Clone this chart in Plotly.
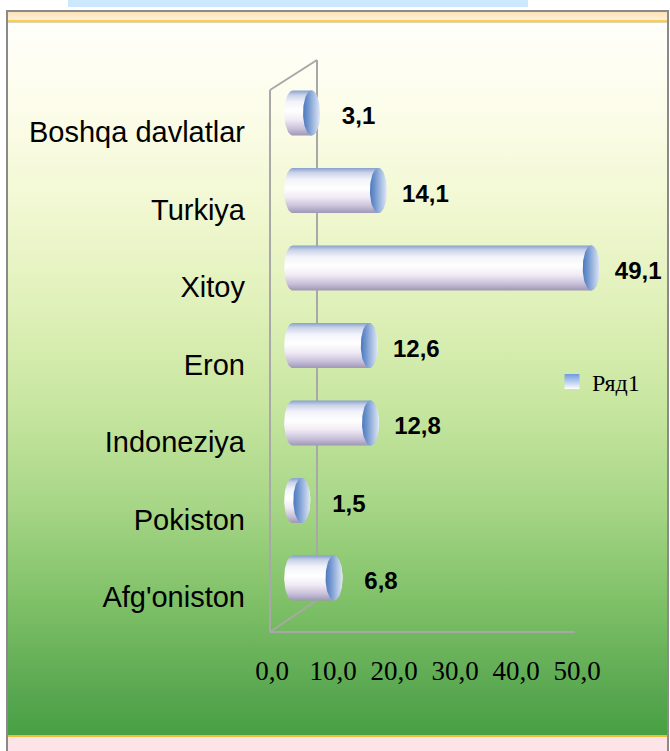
import numpy as np
import plotly.graph_objects as go

# ---------------- data ----------------
categories = ["Afg'oniston", "Pokiston", "Indoneziya", "Eron", "Xitoy", "Turkiya", "Boshqa davlatlar"]
values = [6.8, 1.5, 12.8, 12.6, 49.1, 14.1, 3.1]
x_ticks = [0, 10, 20, 30, 40, 50]
series_name = "Ряд1"

# ---------------- geometry (pixels) ----------------
W, H = 670, 751
X0_PX, PX_PER_X = 292.7, 6.08      # bar plane: value 0 position and scale
Y0_PX, PX_PER_Y = 578.0, 77.5      # first category centre and spacing
X2_DOM = (250, 660)
Y2_DOM = (640, 40)
RX_PX, RY_PX = 8.5, 22.5           # cylinder end ellipse radii

def px_to_x(px):
    return (px - X0_PX) / PX_PER_X

def px_to_y(py):
    return (Y0_PX - py) / PX_PER_Y

rx = RX_PX / PX_PER_X
ry = RY_PX / PX_PER_Y

fig = go.Figure()

# ---------------- background (subplot xy, pixel coordinates) ----------------
def rect(x0, y0, x1, y1):
    return [x0, x1, x1, x0, x0], [y0, y0, y1, y1, y0]

def bg_rect(x0, y0, x1, y1, color=None, grad=None):
    xs, ys = rect(x0, y0, x1, y1)
    kw = dict(x=xs, y=ys, mode="lines", line=dict(width=0), fill="toself",
              hoverinfo="skip", showlegend=False, xaxis="x", yaxis="y")
    if grad is not None:
        kw["fillgradient"] = grad
    else:
        kw["fillcolor"] = color
    fig.add_trace(go.Scatter(**kw))

bg_rect(68, 0, 528, 7, "#cbe8fc")                 # light blue strip at top
bg_rect(6, 10, 669, 751, "#8a8a8a")               # grey frame
bg_rect(8, 12, 667, 20, grad=dict(type="vertical", start=12, stop=20,
        colorscale=[[0, "#fde2b6"], [1, "#fdf1dc"]]))
bg_rect(8, 20, 667, 22.5, "#f7cf55")              # yellow line
bg_rect(8, 22.5, 667, 735, grad=dict(type="vertical", start=22.5, stop=735,
        colorscale=[[0.00, "#fffffb"],
                     [0.11, "#fdfdec"],
                     [0.25, "#f2f8d3"],
                     [0.39, "#e1f1bb"],
                     [0.53, "#c9e7a1"],
                     [0.67, "#a9d788"],
                     [0.81, "#80c168"],
                     [0.95, "#56a64f"],
                     [1.00, "#48a042"]]))
bg_rect(8, 735, 667, 737, "#eebe3a")              # bottom yellow line
bg_rect(8, 737, 667, 751, "#fde4e8")              # pink strip

# ---------------- 3D frame lines (subplot x2y2) ----------------
frame_px = [((270, 90), (270, 632)),
            ((317, 60), (317, 600)),
            ((270, 90), (317, 60)),
            ((270, 632), (317, 600)),
            ((270, 632), (575, 632))]
fx, fy = [], []
for (a, b) in frame_px:
    fx += [px_to_x(a[0]), px_to_x(b[0]), None]
    fy += [px_to_y(a[1]), px_to_y(b[1]), None]
fig.add_trace(go.Scatter(x=fx, y=fy, mode="lines", line=dict(color="#a8a8a8", width=2),
                         hoverinfo="skip", showlegend=False, xaxis="x2", yaxis="y2"))

# ---------------- cylinders ----------------
t_left = np.linspace(np.pi / 2, 3 * np.pi / 2, 40)
t_right = np.linspace(-np.pi / 2, np.pi / 2, 40)
t_full = np.linspace(0, 2 * np.pi, 80)

body_scale = [[0.00, "#9e97b6"], [0.15, "#c9c1da"], [0.35, "#f1ebf5"],
              [0.55, "#ffffff"], [0.75, "#f2f3fa"], [0.90, "#c9d2e8"], [1.00, "#86a0cb"]]
cap_scale = [[0.00, "#4c79bd"], [0.30, "#7196cf"], [0.65, "#a9bfe2"], [1.00, "#dfe7f4"]]

for i, v in enumerate(values):
    bx = np.concatenate([rx * np.cos(t_left), v + rx * np.cos(t_right)])
    by = np.concatenate([i + ry * np.sin(t_left), i + ry * np.sin(t_right)])
    fig.add_trace(go.Scatter(
        x=np.append(bx, bx[0]), y=np.append(by, by[0]), mode="lines", line=dict(width=0),
        fill="toself", fillgradient=dict(type="vertical", start=i - ry, stop=i + ry,
                                          colorscale=body_scale),
        hoverinfo="skip", showlegend=False, xaxis="x2", yaxis="y2"))
    cx = v + rx * np.cos(t_full)
    cy = i + ry * np.sin(t_full)
    fig.add_trace(go.Scatter(
        x=cx, y=cy, mode="lines", line=dict(width=0),
        fill="toself", fillgradient=dict(type="horizontal", start=v - rx, stop=v + rx,
                                          colorscale=cap_scale),
        hoverinfo="skip", showlegend=False, xaxis="x2", yaxis="y2"))

# ---------------- value labels ----------------
LABEL_DX_PX, LABEL_DY_PX = 47, 5
fig.add_trace(go.Scatter(
    x=[v + LABEL_DX_PX / PX_PER_X for v in values],
    y=[i - LABEL_DY_PX / PX_PER_Y for i in range(len(values))],
    text=[f"{v:.1f}".replace(".", ",") for v in values],
    mode="text", textposition="middle center",
    textfont=dict(family="Liberation Sans, Arial", size=24, color="#000000", weight="bold"),
    cliponaxis=False, hoverinfo="skip", showlegend=False, xaxis="x2", yaxis="y2"))

# ---------------- legend entry ----------------
fig.add_trace(go.Scatter(
    x=[None], y=[None], mode="markers", name=series_name,
    marker=dict(symbol="square", size=15, color="#6f9be0",
                gradient=dict(type="vertical", color="#ffffff")),
    showlegend=True, xaxis="x2", yaxis="y2"))

# ---------------- tick axis dummy (front plane) ----------------
fig.add_trace(go.Scatter(x=[0], y=[0], mode="markers", marker=dict(opacity=0),
                         hoverinfo="skip", showlegend=False, xaxis="x3", yaxis="y3"))

hidden = dict(showgrid=False, zeroline=False, showline=False, showticklabels=False,
              ticks="", fixedrange=True, automargin=False)

fig.update_layout(
    width=W, height=H,
    margin=dict(l=0, r=0, t=0, b=0, pad=0, autoexpand=False),
    paper_bgcolor="#ffffff",
    plot_bgcolor="rgba(0,0,0,0)",
    separators=", ",
    xaxis=dict(domain=[0, 1], range=[0, W], **hidden),
    yaxis=dict(domain=[0, 1], range=[H, 0], **hidden),
    xaxis2=dict(domain=[X2_DOM[0] / W, X2_DOM[1] / W],
                range=[px_to_x(X2_DOM[0]), px_to_x(X2_DOM[1])],
                anchor="y2", **hidden),
    yaxis2=dict(domain=[1 - Y2_DOM[0] / H, 1 - Y2_DOM[1] / H],
                range=[px_to_y(Y2_DOM[0]), px_to_y(Y2_DOM[1])],
                anchor="x2", showgrid=False, zeroline=False, showline=False, ticks="",
                tickmode="array", tickvals=list(range(len(categories))), ticktext=categories,
                ticklabelshift=19, ticklabelstandoff=4, automargin=False,
                tickfont=dict(family="Liberation Sans, Arial", size=29, color="#000000"),
                fixedrange=True),
    xaxis3=dict(domain=[272 / W, 577 / W], range=[0, 50], anchor="y3",
                showgrid=False, zeroline=False, showline=False, ticks="", automargin=False,
                tickmode="array", tickvals=x_ticks, tickformat=".1f",
                tickfont=dict(family="Liberation Serif, Times New Roman", size=27, color="#000000"),
                fixedrange=True),
    yaxis3=dict(domain=[1 - 652 / H, 1 - 620 / H], range=[-1, 1], anchor="x3", **hidden),
    showlegend=True,
    legend=dict(x=552 / W, y=1 - 382 / H, xanchor="left", yanchor="middle",
                bgcolor="rgba(0,0,0,0)", borderwidth=0,
                font=dict(family="Liberation Serif, Times New Roman", size=24, color="#000000")),
)

fig.write_html("out.html", config={"displayModeBar": False},
               post_script="document.body.style.margin='0';")
